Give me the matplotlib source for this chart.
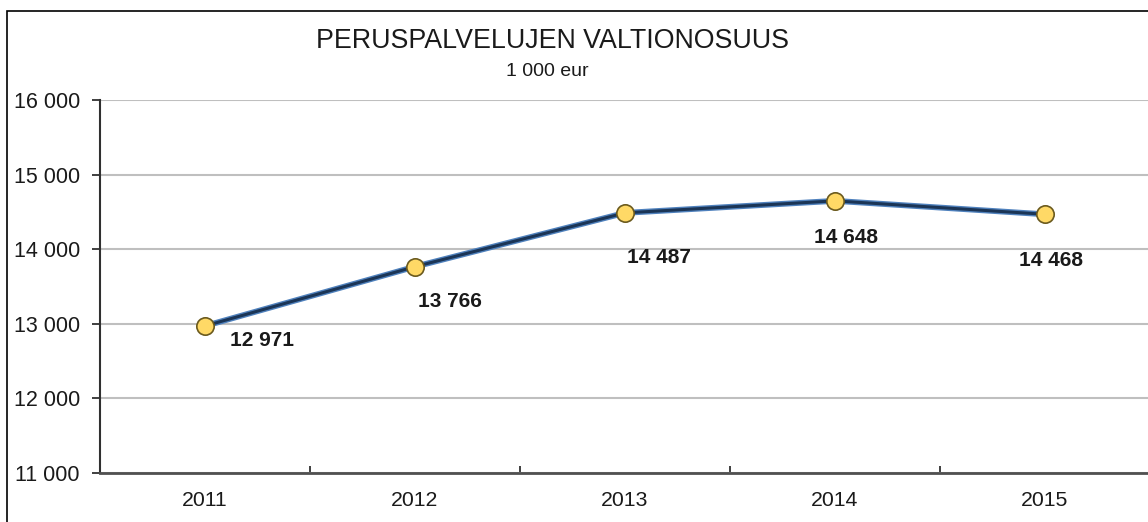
import matplotlib.pyplot as plt
from matplotlib.patches import Rectangle
from matplotlib.ticker import FuncFormatter, MultipleLocator
import numpy as np

years = ['2011', '2012', '2013', '2014', '2015']
values = [12971, 13766, 14487, 14648, 14468]
value_labels = ['12 971', '13 766', '14 487', '14 648', '14 468']

plt.rcParams['font.family'] = ['Liberation Sans', 'DejaVu Sans']

W, H = 1148, 522
fig = plt.figure(figsize=(W / 100, H / 100), dpi=100)

# outer chart border (cut by image edges on right and bottom)
fig.patches.append(Rectangle((7 / W, -0.1), 1.2, (H - 11) / H + 0.1,
                             transform=fig.transFigure, fill=False,
                             edgecolor='black', linewidth=1.2, zorder=0))

ax = fig.add_axes([100 / W, 49 / H, 1050 / W, 373 / H])
x = np.arange(len(years))

ax.plot(x, values, color='#4F81BD', linewidth=4.2, solid_capstyle='round', zorder=3)
ax.plot(x, values, color='#1B3556', linewidth=2.2, zorder=4)
ax.plot(x, values, linestyle='none', marker='o', markersize=12.5,
        markerfacecolor='#FFD966', markeredgecolor='#6B5A1E',
        markeredgewidth=1.2, zorder=5)

# label offsets in pixels (dx right, dy down)
offsets = [(57, 15), (35, 35), (34, 45), (11, 37), (6, 46)]
for xi, v, lab, (dx, dy) in zip(x, values, value_labels, offsets):
    ax.annotate(lab, (xi, v), xytext=(dx * 0.72, -dy * 0.72),
                textcoords='offset points', ha='center', va='center',
                fontsize=15, fontweight='bold', color='#1a1a1a', zorder=6)

ax.set_xlim(-0.5, len(years) - 0.5)
ax.set_ylim(11000, 16000)
ax.yaxis.set_major_locator(MultipleLocator(1000))
ax.yaxis.set_major_formatter(FuncFormatter(lambda v, p: f'{int(v):,}'.replace(',', ' ')))
ax.set_xticks(x)
ax.set_xticklabels(years)
ax.set_xticks(np.arange(len(years) + 1) - 0.5, minor=True)

ax.grid(axis='y', color='#BFBFBF', linewidth=1.5)
ax.set_axisbelow(True)
for s in ['top', 'right']:
    ax.spines[s].set_visible(False)
ax.spines['left'].set_color('#303030')
ax.spines['left'].set_linewidth(1.5)
ax.spines['bottom'].set_color('#505050')
ax.spines['bottom'].set_linewidth(2)

ax.tick_params(axis='y', length=6, width=1.3, color='#303030', labelsize=15.5,
               pad=8.5, labelcolor='#1a1a1a')
ax.tick_params(axis='x', which='major', length=0, labelsize=15.3, pad=13,
               labelcolor='#1a1a1a')
ax.tick_params(axis='x', which='minor', direction='in', length=5, width=1.3,
               color='#303030')

fig.text(552 / W, 1 - 41 / H, 'PERUSPALVELUJEN VALTIONOSUUS', ha='center',
         va='center', fontsize=19.3, color='#1a1a1a')
fig.text(547 / W, 1 - 71 / H, '1 000 eur', ha='center', va='center',
         fontsize=14, color='#1a1a1a')

fig.savefig('out.png', dpi=100)
